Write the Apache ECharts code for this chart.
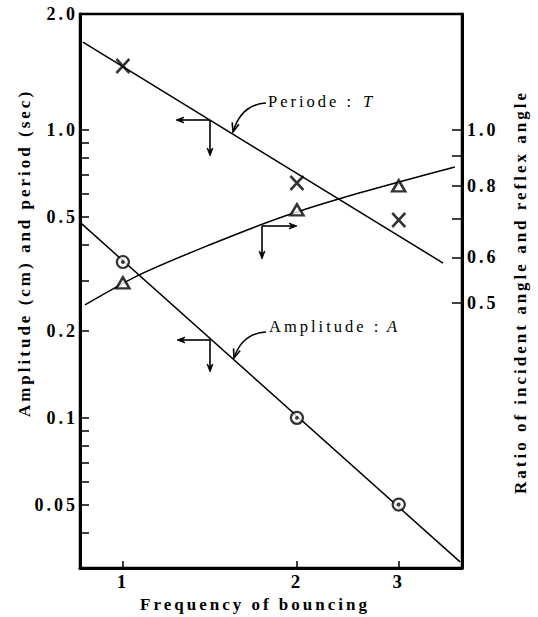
<!DOCTYPE html>
<html><head><meta charset="utf-8">
<script src="https://cdn.jsdelivr.net/npm/echarts@6/dist/echarts.min.js"></script>
<style>
html,body{margin:0;padding:0;background:#fff;}
#main{width:538px;height:617px;}
#main svg text{letter-spacing:3px;font-family:"Liberation Serif",serif !important;}
</style></head><body><div id="main"></div>
<script>
// ---- data ----
const bounceFreq = [1, 2, 3];
const periodT = [1.67, 0.655, 0.487];        // sec (left axis)
const amplitudeA = [0.348, 0.1, 0.05];       // cm (left axis)
const angleRatio = [0.542, 0.726, 0.799];    // ratio (right axis)

// fitted lines / curve drawn in the figure
const periodFitX = [0.853, 3.58];
const periodFitY = [2.02, 0.345];
const ampFitX = [0.849, 3.83];
const ampFitY = [0.472, 0.0316];
const ratioFitX = [0.86, 1.07, 1.414, 1.891, 2.57, 3.752];
const ratioFitY = [0.496, 0.56, 0.631, 0.706, 0.777, 0.862];

// axes ranges and ticks
const xMin = 0.843, xMax = 3.86;
const leftMin = 0.0301, leftMax = 2.53;
const rightMin = 0.173, rightMax = 1.59;
const xTickValues = [1, 2, 3];
const xTickLabels = ['1', '2', '3'];
const leftTickValues = [0.04,0.05,0.06,0.07,0.08,0.09,0.1,0.2,0.3,0.4,0.5,0.6,0.7,0.8,0.9,1.0];
const leftLabelValues = [0.05, 0.1, 0.2, 0.5, 1.0, leftMax];
const leftLabelTexts = ['0.05', '0.1', '0.2', '0.5', '1.0', '2.0'];
const rightTickValues = [0.5, 0.6, 0.7, 0.8, 0.9, 1.0];
const rightLabelValues = [0.5, 0.6, 0.8, 1.0];
const rightLabelTexts = ['0.5', '0.6', '0.8', '1.0'];

const xTitle = 'Frequency of bouncing';
const leftTitle = 'Amplitude (cm) and period (sec)';
const rightTitle = 'Ratio of incident angle and reflex angle';

// ---- helpers ----
const zip = (xs, ys) => xs.map((x, i) => [x, ys[i]]);
const labelFor = (vals, texts) => v => {
  for (let i = 0; i < vals.length; i++) if (Math.abs(v - vals[i]) / vals[i] < 1e-4) return texts[i];
  return '';
};
const FONT = '"Liberation Serif", serif';
const black = '#000';

function arrow(x1, y1, x2, y2) {
  const dx = x2 - x1, dy = y2 - y1, L = Math.hypot(dx, dy);
  const ux = dx / L, uy = dy / L, px = -uy, py = ux;
  const hl = 8, hw = 3;
  const bx = x2 - ux * hl, by = y2 - uy * hl;
  return [
    {type: 'polyline', shape: {points: [[x1, y1], [bx + ux * 2, by + uy * 2]]}, style: {stroke: black, lineWidth: 1.6, fill: null}},
    {type: 'polygon', shape: {points: [[x2, y2], [bx + px * hw, by + py * hw], [bx + ux * 2.5, by + uy * 2.5], [bx - px * hw, by - py * hw]]}, style: {fill: black, stroke: black, lineWidth: 0.8}}
  ];
}
function curvedArrow(sx, sy, c1x, c1y, c2x, c2y, ex, ey) {
  const dx = ex - c2x, dy = ey - c2y, L = Math.hypot(dx, dy);
  const ux = dx / L, uy = dy / L, px = -uy, py = ux;
  const hl = 9, hw = 3.5;
  const bx = ex - ux * hl, by = ey - uy * hl;
  return [
    {type: 'bezierCurve', shape: {x1: sx, y1: sy, cpx1: c1x, cpy1: c1y, cpx2: c2x, cpy2: c2y, x2: ex, y2: ey}, style: {stroke: black, lineWidth: 1.5, fill: null}},
    {type: 'polyline', shape: {points: [[bx + px * hw, by + py * hw], [ex, ey], [bx - px * hw, by - py * hw]]}, style: {stroke: black, lineWidth: 1.6, fill: null}}
  ];
}
function txt(x, y, text, opts) {
  return {type: 'text', x: x, y: y, style: Object.assign({
    text: text, fill: black, fontFamily: FONT, fontSize: 16.5, textAlign: 'left', textVerticalAlign: 'middle'
  }, opts || {})};
}

const graphics = [].concat(
  // Periode annotation
  arrow(210, 120, 176, 120), arrow(210, 120, 210, 156),
  curvedArrow(266, 103, 248, 104, 238, 115, 233, 132),
  [txt(268, 101, 'Periode :'), txt(363, 101, 'T', {fontStyle: 'italic'})],
  // Amplitude annotation
  arrow(210, 340, 177, 340), arrow(210, 340, 210, 372),
  curvedArrow(266, 332, 248, 333, 239, 343, 234, 358),
  [txt(269, 326, 'Amplitude :'), txt(387, 326, 'A', {fontStyle: 'italic'})],
  // ratio annotation
  arrow(262, 226, 297, 226), arrow(262, 226, 262, 259),
  // axis titles
  [
    {type: 'text', x: 255, y: 604, style: {text: xTitle, fill: black, fontFamily: FONT, fontSize: 17, fontWeight: 'bold', textAlign: 'center', textVerticalAlign: 'middle'}},
    {type: 'text', x: 24, y: 253, rotation: Math.PI / 2, style: {text: leftTitle, fill: black, fontFamily: FONT, fontSize: 17, fontWeight: 'bold', textAlign: 'center', textVerticalAlign: 'middle'}},
    {type: 'text', x: 520, y: 292, rotation: Math.PI / 2, style: {text: rightTitle, fill: black, fontFamily: FONT, fontSize: 17, fontWeight: 'bold', textAlign: 'center', textVerticalAlign: 'middle'}}
  ]
);

const chart = echarts.init(document.getElementById('main'), null, {renderer: 'svg', width: 538, height: 617});
const labelStyle = {color: black, fontFamily: FONT, fontSize: 18, fontWeight: 'bold'};
chart.setOption({
  animation: false,
  backgroundColor: '#fff',
  grid: {left: 80, right: 76, top: 14, bottom: 49, show: true, borderColor: black, borderWidth: 2.5, backgroundColor: 'rgba(0,0,0,0)'},
  xAxis: {
    type: 'log', logBase: 10, min: xMin, max: xMax,
    axisLine: {show: true, onZero: false, lineStyle: {color: black, width: 3}},
    axisTick: {show: true, inside: true, length: 7, customValues: xTickValues, lineStyle: {color: black, width: 1.5}},
    axisLabel: Object.assign({customValues: xTickValues, margin: 4, formatter: labelFor(xTickValues, xTickLabels)}, labelStyle, {fontSize: 19}),
    splitLine: {show: false}, minorTick: {show: false}, minorSplitLine: {show: false}
  },
  yAxis: [{
    type: 'log', logBase: 10, min: leftMin, max: leftMax, position: 'left',
    axisLine: {show: true, lineStyle: {color: black, width: 3}},
    axisTick: {show: true, inside: true, length: 9, customValues: leftTickValues, lineStyle: {color: black, width: 1.5}},
    axisLabel: Object.assign({customValues: leftLabelValues, margin: 2, formatter: labelFor(leftLabelValues, leftLabelTexts)}, labelStyle),
    splitLine: {show: false}, minorTick: {show: false}
  }, {
    type: 'log', logBase: 10, min: rightMin, max: rightMax, position: 'right',
    axisLine: {show: true, lineStyle: {color: black, width: 3}},
    axisTick: {show: true, inside: true, length: 10, customValues: rightTickValues, lineStyle: {color: black, width: 1.5}},
    axisLabel: Object.assign({customValues: rightLabelValues, margin: 5, formatter: labelFor(rightLabelValues, rightLabelTexts)}, labelStyle),
    splitLine: {show: false}, minorTick: {show: false}
  }],
  series: [
    {name: 'Periode fit', type: 'line', yAxisIndex: 0, data: zip(periodFitX, periodFitY), symbol: 'none', lineStyle: {color: black, width: 1.5}, z: 2, silent: true},
    {name: 'Amplitude fit', type: 'line', yAxisIndex: 0, data: zip(ampFitX, ampFitY), symbol: 'none', lineStyle: {color: black, width: 1.5}, z: 2, silent: true},
    {name: 'Ratio fit', type: 'line', yAxisIndex: 1, data: zip(ratioFitX, ratioFitY), smooth: 0.3, symbol: 'none', lineStyle: {color: black, width: 1.5}, z: 2, silent: true},
    {name: 'Periode T', type: 'scatter', yAxisIndex: 0, data: zip(bounceFreq, periodT),
      symbol: 'path://M0,0L10,10M10,0L0,10', symbolSize: [13, 14],
      itemStyle: {color: 'rgba(0,0,0,0)', borderColor: black, borderWidth: 2.6}, z: 5},
    {name: 'Amplitude A', type: 'scatter', yAxisIndex: 0, data: zip(bounceFreq, amplitudeA),
      symbol: 'path://M12,2A10,10,0,1,1,11.99,2ZM12,10.6A1.4,1.4,0,1,1,11.99,10.6Z', symbolSize: 12,
      itemStyle: {color: '#fff', borderColor: black, borderWidth: 2.2}, z: 5},
    {name: 'Angle ratio', type: 'scatter', yAxisIndex: 1, data: zip(bounceFreq, angleRatio),
      symbol: 'triangle', symbolSize: [13, 11],
      itemStyle: {color: '#fff', borderColor: black, borderWidth: 2.5}, z: 5}
  ],
  graphic: graphics
});
</script></body></html>
